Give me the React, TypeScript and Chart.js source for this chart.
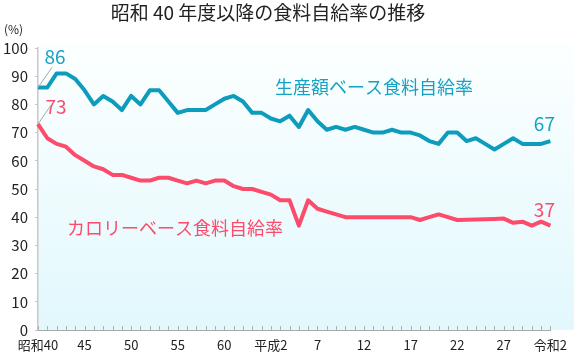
import React, { useEffect, useRef } from "react";
import { Chart, registerables } from "chart.js";

Chart.register(...registerables);

// Fiscal years 昭和40 (1965) – 令和2 (2020)
const fiscalYears = [
  1965, 1966, 1967, 1968, 1969, 1970, 1971, 1972, 1973, 1974,
  1975, 1976, 1977, 1978, 1979, 1980, 1981, 1982, 1983, 1984,
  1985, 1986, 1987, 1988, 1989, 1990, 1991, 1992, 1993, 1994,
  1995, 1996, 1997, 1998, 1999, 2000, 2001, 2002, 2003, 2004,
  2005, 2006, 2007, 2008, 2009, 2010, 2011, 2012, 2013, 2014,
  2015, 2016, 2017, 2018, 2019, 2020,
];

const tickYears = [1965, 1970, 1975, 1980, 1985, 1990, 1995, 2000, 2005, 2010, 2015, 2020];
const tickLabels = ["昭和40", "45", "50", "55", "60", "平成2", "7", "12", "17", "22", "27", "令和2"];

// 生産額ベース食料自給率
const productionBased = [
  86, 86, 91, 91, 89, 85, 80, 83, 81, 78,
  83, 80, 85, 85, 81, 77, 78, 78, 78, 80,
  82, 83, 81, 77, 77, 75, 74, 76, 72, 78,
  74, 71, 72, 71, 72, 71, 70, 70, 71, 70,
  70, 69, 67, 66, 70, 70, 67, 68, 66, 64,
  66, 68, 66, 66, 66, 67,
];

// カロリーベース食料自給率
const calorieBased = [
  73, 68, 66, 65, 62, 60, 58, 57, 55, 55,
  54, 53, 53, 54, 54, 53, 52, 53, 52, 53,
  53, 51, 50, 50, 49, 48, 46, 46, 37, 46,
  43, 42, 41, 40, 40, 40, 40, 40, 40, 40,
  40, 39, 40, 41, 40, 39, 39.1, 39.2, 39.3, 39.4,
  39.5, 38, 38.4, 37, 38.4, 37,
];

const TEAL = "#0e9cbc";
const TEAL_TEXT = "#16a2c4";
const PINK = "#fc4b6b";
const FONT = '"Noto Sans CJK JP", "Noto Sans", sans-serif';

const decorPlugin = {
  id: "decor",
  beforeDraw(chart: any) {
    const { ctx, chartArea, width } = chart;
    const top = chartArea.top - 5;
    const g = ctx.createLinearGradient(0, top, 0, chartArea.bottom);
    g.addColorStop(0, "#fcffff");
    g.addColorStop(1, "#e2f8fd");
    ctx.save();
    ctx.fillStyle = g;
    ctx.fillRect(chartArea.left - 1, top, width - chartArea.left + 1, chartArea.bottom - top);
    ctx.restore();
  },
  afterDraw(chart: any) {
    const { ctx, chartArea } = chart;
    const xs = chart.scales.x;
    const ys = chart.scales.y;
    ctx.save();
    // inward year ticks
    ctx.strokeStyle = "#b0b0b0";
    ctx.lineWidth = 1;
    for (let i = 0; i < fiscalYears.length; i++) {
      const x = Math.round(xs.getPixelForValue(i)) + 0.5;
      ctx.beginPath();
      ctx.moveTo(x, chartArea.bottom);
      ctx.lineTo(x, chartArea.bottom - 4);
      ctx.stroke();
    }
    // title
    ctx.fillStyle = "#222";
    ctx.font = `400 19px ${FONT}`;
    ctx.textAlign = "center";
    ctx.textBaseline = "middle";
    ctx.fillText("昭和 40 年度以降の食料自給率の推移", 268, 13);
    // unit
    ctx.font = `12px ${FONT}`;
    ctx.textAlign = "left";
    ctx.fillText("(%)", 4, 29);

    // leader lines
    const x0 = xs.getPixelForValue(0);
    ctx.strokeStyle = "#a8a8a8";
    ctx.lineWidth = 1;
    ctx.beginPath();
    ctx.moveTo(x0, ys.getPixelForValue(productionBased[0]));
    ctx.lineTo(x0 + 14, ys.getPixelForValue(productionBased[0]) - 20);
    ctx.moveTo(x0, ys.getPixelForValue(calorieBased[0]));
    ctx.lineTo(x0 + 13, ys.getPixelForValue(calorieBased[0]) - 19);
    ctx.stroke();

    // value labels
    ctx.font = `19px ${FONT}`;
    ctx.textAlign = "center";
    ctx.fillStyle = TEAL_TEXT;
    ctx.fillText(String(productionBased[0]), x0 + 17, ys.getPixelForValue(productionBased[0]) - 31);
    const xl = xs.getPixelForValue(fiscalYears.length - 1);
    ctx.fillText(String(productionBased[productionBased.length - 1]), xl - 6, ys.getPixelForValue(67) - 17);
    ctx.fillStyle = PINK;
    ctx.fillText(String(calorieBased[0]), x0 + 18, ys.getPixelForValue(calorieBased[0]) - 17);
    ctx.fillText("37", xl - 6, ys.getPixelForValue(37) - 16);

    // series names
    ctx.font = `18px ${FONT}`;
    ctx.fillStyle = TEAL_TEXT;
    ctx.fillText("生産額ベース食料自給率", 374, 87);
    ctx.fillStyle = PINK;
    ctx.fillText("カロリーベース食料自給率", 175, 228);
    ctx.restore();
  },
};

export default function App() {
  const ref = useRef<HTMLCanvasElement>(null);
  useEffect(() => {
    if (!ref.current) return;
    const chart = new Chart(ref.current, {
      type: "line",
      data: {
        labels: fiscalYears.map(String),
        datasets: [
          {
            label: "生産額ベース",
            data: productionBased,
            borderColor: TEAL,
            borderWidth: 4,
            pointRadius: 0,
            tension: 0,
            borderJoinStyle: "round",
            clip: false as any,
          },
          {
            label: "カロリーベース",
            data: calorieBased,
            borderColor: PINK,
            borderWidth: 4,
            pointRadius: 0,
            tension: 0,
            borderJoinStyle: "round",
            clip: false as any,
          },
        ],
      },
      options: {
        responsive: false,
        animation: false,
        devicePixelRatio: 1,
        layout: { padding: { top: 48, right: 16, left: 0, bottom: 0 } },
        plugins: { legend: { display: false }, tooltip: { enabled: false }, title: { display: false } },
        scales: {
          x: {
            grid: { display: false, drawTicks: false },
            border: { display: true, color: "#a9a9a9", width: 1 },
            ticks: {
              autoSkip: false,
              maxRotation: 0,
              padding: 7,
              color: "#222",
              font: { family: FONT, size: 13 },
              callback: (_v: any, i: number) => {
                const k = tickYears.indexOf(fiscalYears[i]);
                return k >= 0 ? tickLabels[k] : "";
              },
            },
            afterFit: (s: any) => {
              s.height = 24;
            },
          },
          y: {
            min: 0,
            max: 100,
            grid: { drawOnChartArea: false, drawTicks: true, tickLength: 3, color: "#c8c8c8" },
            border: { display: true, color: "#c8c8c8", width: 1.5 },
            ticks: {
              stepSize: 10,
              padding: 7,
              color: "#222",
              font: { family: FONT, size: 15 },
            },
            afterFit: (s: any) => {
              s.width = 38;
            },
          },
        },
      },
      plugins: [decorPlugin],
    });
    return () => chart.destroy();
  }, []);
  return (
    <div style={{ position: "fixed", left: 0, top: 0, width: 574, height: 354, background: "#fff" }}>
      <canvas ref={ref} width={574} height={354} style={{ width: 574, height: 354, display: "block" }} />
    </div>
  );
}
